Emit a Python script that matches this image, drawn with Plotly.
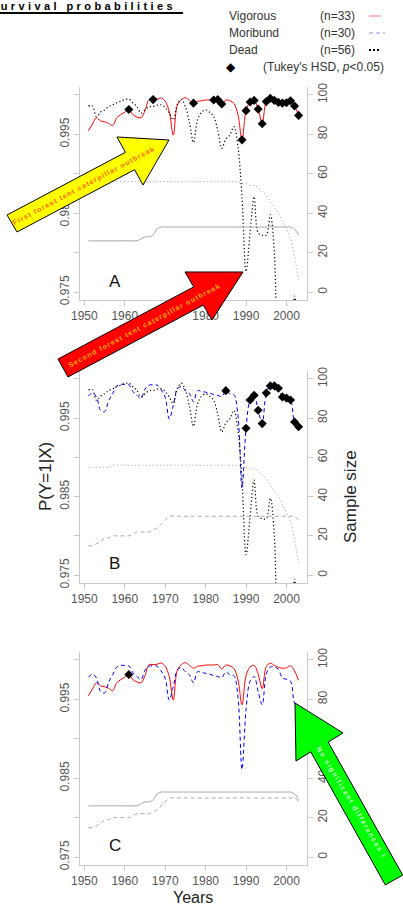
import plotly.graph_objects as go

# ---------------- data ----------------
years = list(range(1951, 2004))

p_vigorous = [0.99545, 0.9963, 0.9971, 0.9967, 0.9966, 0.9964, 0.9961, 0.9971, 0.9975, 0.9978,
              0.99815, 0.9975, 0.9972, 0.9971, 0.9980, 0.9994, 0.9994, 0.99945, 0.9996, 0.9992,
              0.9979, 0.9949, 0.9987, 0.9994, 0.99965, 0.9993, 0.99895, 0.9992, 0.99925, 0.99935,
              0.99935, 0.99935, 0.9994, 0.99885, 0.99935, 0.99925, 0.9989, 0.9975, 0.9943, 0.9980,
              0.9991, 0.9993, 0.9982, 0.99635, 0.99915, 0.99958, 0.9993, 0.99905, 0.99895, 0.9990,
              0.99925, 0.9986, 0.9974]

p_moribund = [0.9978, 0.9982, 0.9977, 0.9960, 0.9958, 0.9972, 0.9981, 0.9991, 0.9993, 0.9993,
              0.99925, 0.9984, 0.9979, 0.9975, 0.9987, 0.9992, 0.99925, 0.9992, 0.9986, 0.99765,
              0.9949, 0.9966, 0.99872, 0.9990, 0.9985, 0.9981, 0.9971, 0.9985, 0.9984, 0.9983,
              0.9982, 0.9980, 0.9979, 0.99775, 0.9985, 0.9981, 0.9980, 0.9953, 0.9861, 0.9937,
              0.9973, 0.9979, 0.9960, 0.9943, 0.9982, 0.9991, 0.9991, 0.9988, 0.9977, 0.99755,
              0.9973, 0.9945, 0.9939]

p_dead = [0.9986, 0.9986, 0.99725, 0.9978, 0.9981, 0.9985, 0.99873, 0.9990, 0.9992, 0.9994,
          0.99945, 0.9990, 0.99852, 0.9977, 0.9981, 0.9985, 0.99852, 0.9987, 0.99873, 0.9984,
          0.9977, 0.99683, 0.9988, 0.99945, 0.9985, 0.9965, 0.99395, 0.99683, 0.9978, 0.9981,
          0.9978, 0.99725, 0.9955, 0.99323, 0.9944, 0.99492, 0.99598, 0.99344, 0.9871, 0.9776,
          0.9825, 0.9871, 0.9825, 0.9822, 0.9822, 0.9848, 0.9800, 0.9600, 0.9560, 0.9600,
          0.9660, 0.9745, 0.9660]

n_vigorous = [26, 26, 26, 26, 26, 26, 26, 26, 26, 26, 26, 26, 26, 27, 28, 28, 29, 32, 33, 33,
              33, 33, 33, 33, 33, 33, 33, 33, 33, 33, 33, 33, 33, 33, 33, 33, 33, 33, 33, 33,
              33, 33, 33, 33, 33, 33, 33, 33, 33, 33, 33, 32, 29]

n_moribund = [15, 15, 16, 17, 19, 19, 20, 20, 20, 20, 20, 21, 22, 22, 22, 22, 23, 24, 26, 28,
              30, 30, 30, 30, 30, 30, 30, 30, 30, 30, 30, 30, 30, 30, 30, 30, 30, 30, 30, 30,
              30, 30, 30, 30, 30, 30, 30, 30, 30, 30, 30, 30, 28]

n_dead = [55, 55, 55, 55, 55, 55, 56, 56, 56, 56, 56, 56, 56, 56, 56, 56, 56, 56, 56, 56,
          56, 56, 56, 56, 56, 56, 56, 56, 56, 56, 56, 56, 56, 56, 56, 56, 56, 56, 55, 55,
          54, 54, 53, 51, 49, 46, 43, 40, 36, 32, 27, 18, 6]

sig_A = [1961, 1967, 1977, 1982, 1983, 1984, 1989, 1990, 1991, 1992, 1993, 1994, 1995, 1996,
         1997, 1998, 1999, 2000, 2001, 2002, 2003]
sig_B = [1985, 1990, 1991, 1992, 1993, 1994, 1995, 1996, 1997, 1998, 1999, 2000, 2001, 2002, 2003]
sig_C = [1961]

x_ticks = [1950, 1960, 1970, 1980, 1990, 2000]
y_ticks = [0.975, 0.98, 0.985, 0.99, 0.995, 1.0]
y_ticktext = ['0.975', '', '0.985', '', '0.995', '']
n_ticks = [0, 20, 40, 60, 80, 100]
panel_labels = ['A', 'B', 'C']

# ---------------- layout helpers ----------------
W, H = 403, 905
def fx(px): return px / W
def fy(py): return 1 - py / H

FONT = 'Liberation Sans, Arial, sans-serif'
AXC = '#c8c8c8'
TKC = '#555555'
GRAY = '#a8a8a8'
DOT = '1.2px,2.4px'
DASH = '4px,3px'

panels = [(87, 300), (371, 583), (652, 865)]
left, right = 80, 307

fig = go.Figure()

def val(series, yr):
    return series[years.index(yr)]

panel_series = [
    ([(p_vigorous, dict(color='red', width=1)), (p_dead, dict(color='black', width=1.2, dash=DOT))],
     [(n_vigorous, dict(color=GRAY, width=1)), (n_dead, dict(color=GRAY, width=1, dash=DOT))],
     sig_A, p_vigorous),
    ([(p_moribund, dict(color='blue', width=1, dash=DASH)), (p_dead, dict(color='black', width=1.2, dash=DOT))],
     [(n_moribund, dict(color=GRAY, width=1, dash=DASH)), (n_dead, dict(color=GRAY, width=1, dash=DOT))],
     sig_B, p_moribund),
    ([(p_vigorous, dict(color='red', width=1)), (p_moribund, dict(color='blue', width=1, dash=DASH))],
     [(n_vigorous, dict(color=GRAY, width=1)), (n_moribund, dict(color=GRAY, width=1, dash=DASH))],
     sig_C, p_vigorous),
]

layout_axes = {}
for i, ((top, bot), (probs, ns, sig, sigser)) in enumerate(zip(panels, panel_series)):
    xa = 'x' if i == 0 else f'x{i+1}'
    yl = 'y' if i == 0 else f'y{2*i+1}'
    yr = f'y{2*i+2}'
    for ser, ln in ns:
        fig.add_trace(go.Scatter(x=years, y=ser, mode='lines', line=dict(shape='spline', **ln),
                                 xaxis=xa, yaxis=yr, showlegend=False, hoverinfo='skip'))
    for ser, ln in probs:
        fig.add_trace(go.Scatter(x=years, y=ser, mode='lines', line=dict(shape='spline', **ln),
                                 xaxis=xa, yaxis=yl, showlegend=False))
    fig.add_trace(go.Scatter(x=sig, y=[val(sigser, s) for s in sig], mode='markers',
                             marker=dict(symbol='diamond', size=7, color='black'),
                             xaxis=xa, yaxis=yl, showlegend=False, cliponaxis=False))
    common = dict(showline=True, linecolor=AXC, linewidth=1, ticks='outside', ticklen=5,
                  tickcolor=AXC, tickwidth=1, showgrid=False, zeroline=False, automargin=False,
                  tickfont=dict(family=FONT, size=12, color=TKC))
    xkey = 'xaxis' if i == 0 else f'xaxis{i+1}'
    ylkey = 'yaxis' if i == 0 else f'yaxis{2*i+1}'
    yrkey = f'yaxis{2*i+2}'
    layout_axes[xkey] = dict(domain=[fx(left), fx(right)], range=[1948.92, 2005.08],
                             anchor=yl, tickvals=x_ticks, **common)
    layout_axes[ylkey] = dict(domain=[fy(bot), fy(top)], range=[0.974, 1.001], anchor=xa,
                              tickvals=y_ticks, ticktext=y_ticktext, tickangle=-90, **common)
    layout_axes[yrkey] = dict(domain=[fy(bot), fy(top)], range=[-4, 104], anchor=xa,
                              overlaying=yl, side='right', tickvals=n_ticks, tickangle=-90, **common)

fig.update_layout(template='none', width=W, height=H, margin=dict(l=0, r=0, t=0, b=0, pad=0),
                  paper_bgcolor='white', plot_bgcolor='white', showlegend=False,
                  font=dict(family=FONT), **layout_axes)

ann = []
def A(x, y, text, size=12, color='#333333', xanchor='center', yanchor='middle', angle=0, **kw):
    ann.append(dict(x=fx(x), y=fy(y), xref='paper', yref='paper', text=text, showarrow=False,
                    xanchor=xanchor, yanchor=yanchor, textangle=angle, borderpad=0,
                    font=dict(family=FONT, size=size, color=color), **kw))

for lab, yy in zip(panel_labels, [281, 563, 845]):
    A(115, yy, lab, size=17, color='#111111')

A(45, 477, 'P(Y=1|X)', size=17, color='#222222', angle=-90)
A(350, 497, 'Sample size', size=17, color='#222222', angle=-90)
A(193, 897, 'Years', size=16, color='#222222')

# legend
A(228, 16, 'Vigorous', xanchor='left')
A(228, 33, 'Moribund', xanchor='left')
A(228, 50, 'Dead', xanchor='left')
A(319, 16, '(n=33)', xanchor='left')
A(319, 33, '(n=30)', xanchor='left')
A(319, 50, '(n=56)', xanchor='left')
A(231, 67, '◆', size=12, color='black')
A(262, 67, "(Tukey's HSD, <i>p</i>&lt;0.05)", xanchor='left')

# title (first letter partly cut at the left edge, as in the reference)
A(-11, 6, '<b><span style="letter-spacing:3.4px">Survival probabilities</span></b>', size=11,
  color='black', xanchor='left')

# arrow texts
A(84, 186, '<b><span style="letter-spacing:1.1px">First forest tent caterpillar outbreak</span></b>',
  size=7, color='#ff6600', angle=-28)
A(144, 326, '<b><span style="letter-spacing:1.1px">Second forest tent caterpillar outbreak</span></b>',
  size=7, color='#ffb000', angle=-28)
A(351, 802, '<b><span style="letter-spacing:1.4px">No significant differences !</span></b>',
  size=7, color='#ccffcc', angle=59)

shapes = []
def path(pts):
    return 'M ' + ' L '.join(f'{fx(x):.5f},{fy(y):.5f}' for x, y in pts) + ' Z'

shapes.append(dict(type='path', xref='paper', yref='paper', fillcolor='#ffff00',
                   line=dict(color='black', width=1),
                   path=path([(7, 215), (125.4, 152.3), (117, 137), (169, 140), (143, 185),
                              (134.6, 169.7), (17, 232)])))
shapes.append(dict(type='path', xref='paper', yref='paper', fillcolor='#ff0000',
                   line=dict(color='black', width=1),
                   path=path([(58, 359), (193.7, 286.9), (185, 272), (243, 272), (212, 320),
                              (203.3, 305.1), (68, 377)])))
shapes.append(dict(type='path', xref='paper', yref='paper', fillcolor='#00ff00',
                   line=dict(color='black', width=1),
                   path=path([(295, 703), (343, 733), (328.2, 742.1), (402.7, 875.1),
                              (385.3, 884.9), (310.8, 751.9), (296, 761)])))
shapes.append(dict(type='line', xref='paper', yref='paper', x0=fx(0), x1=fx(183), y0=fy(13), y1=fy(13),
                   line=dict(color='black', width=2)))
shapes.append(dict(type='line', xref='paper', yref='paper', x0=fx(369), x1=fx(381), y0=fy(16), y1=fy(16),
                   line=dict(color='#ff7070', width=1)))
shapes.append(dict(type='line', xref='paper', yref='paper', x0=fx(369), x1=fx(385), y0=fy(33), y1=fy(33),
                   line=dict(color='#9090ee', width=1, dash='4px,3px')))
shapes.append(dict(type='line', xref='paper', yref='paper', x0=fx(369), x1=fx(381), y0=fy(50), y1=fy(50),
                   line=dict(color='black', width=2, dash='2px,2px')))

fig.update_layout(annotations=ann, shapes=shapes)
fig.write_html('out.html', config={'displayModeBar': False},
               post_script="document.body.style.margin='0px';document.body.style.overflow='hidden';")
